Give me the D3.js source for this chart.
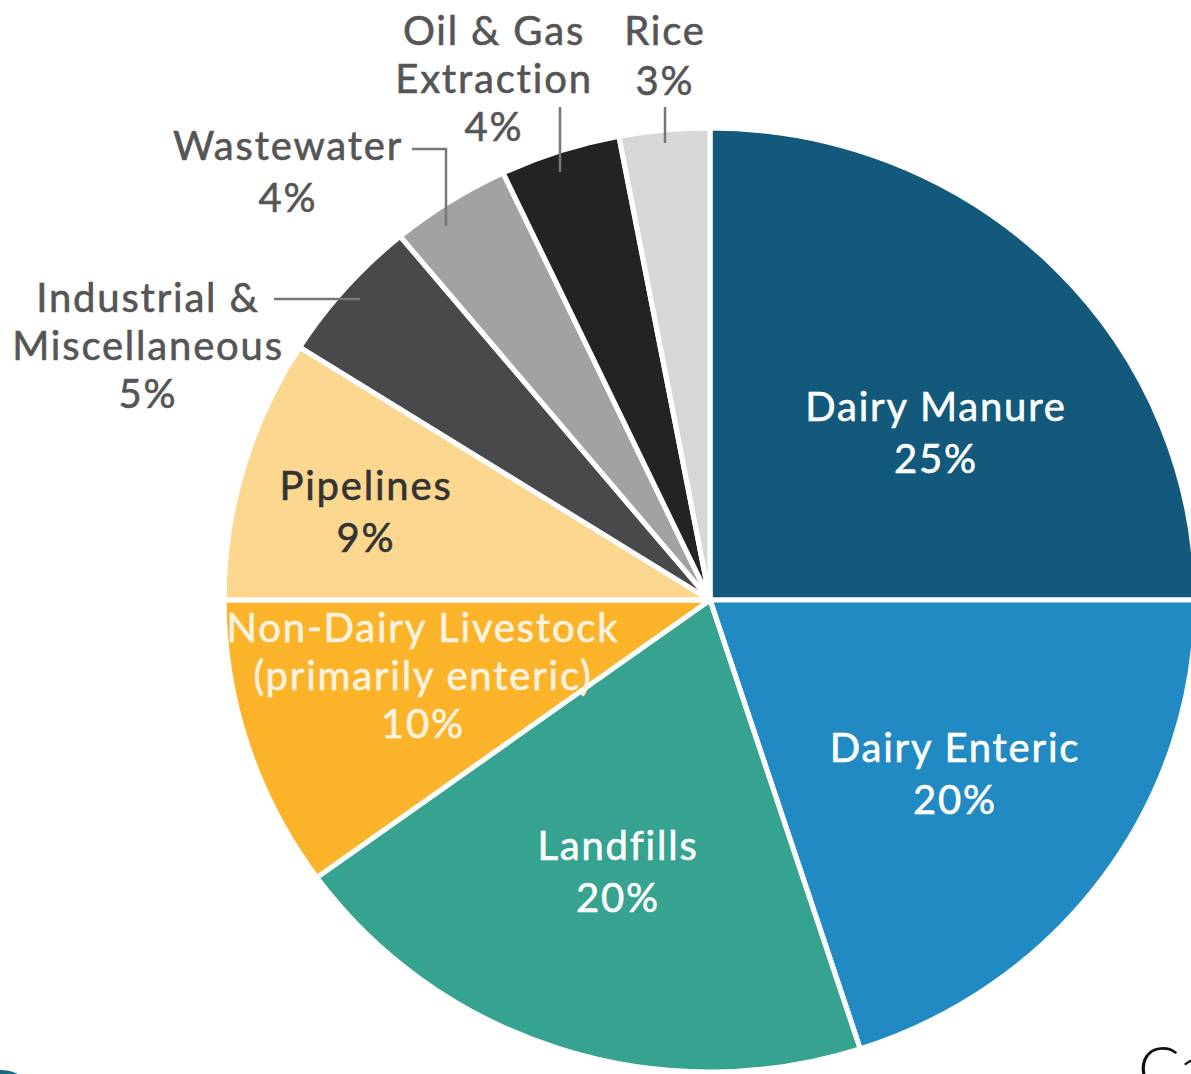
<!DOCTYPE html>
<html>
<head lang="en">
	<meta charset="UTF-8">
	<title>Methane emissions by source</title>
	<script src="https://cdn.jsdelivr.net/npm/d3@7/dist/d3.min.js"></script>
	<style type="text/css">
		html, body { margin: 0; padding: 0; background: #fff; overflow: hidden; }
		svg text { font-family: Lato, "Open Sans", sans-serif; font-size: 40px; letter-spacing: 1.8px; }
	</style>
</head>
<body>
	<svg id="chart" width="1191" height="1074" version="1.1" xmlns="http://www.w3.org/2000/svg"></svg>
	<script type="text/javascript">
		// slices, clockwise from 12 o'clock
		var categories = ['Dairy Manure', 'Dairy Enteric', 'Landfills', 'Non-Dairy Livestock',
			'Pipelines', 'Industrial & Miscellaneous', 'Wastewater', 'Oil & Gas Extraction', 'Rice'];
		var shares = [25, 20, 20, 10, 9, 5, 4, 4, 3];
		var colors = ['#13597c', '#228ac3', '#36a390', '#fbb42a', '#fcd78f', '#49494b', '#a1a2a4', '#232323', '#d7d7d7'];

		// label text lines (percent is appended from shares)
		var labelLines = [
			['Dairy Manure'],
			['Dairy Enteric'],
			['Landfills'],
			['Non-Dairy Livestock', '(primarily enteric)'],
			['Pipelines'],
			['Industrial &', 'Miscellaneous'],
			['Wastewater'],
			['Oil & Gas', 'Extraction'],
			['Rice']
		];

		var cx = 710, cy = 600, rx = 486, ry = 472;

		// where each label block sits (first line centre) and its colour
		var labelLayout = [
			{ x: 936, y: 407, fill: '#fff' },
			{ x: 955, y: 748, fill: '#fff' },
			{ x: 618, y: 846, fill: '#fff' },
			{ x: 423, y: 628, fill: '#fdf3e0', lh: 48 },
			{ x: 366, y: 486, fill: '#333' },
			{ x: 148, y: 298, fill: '#555', lh: 48 },
			{ x: 288, y: 146, fill: '#555' },
			{ x: 494, y: 31, fill: '#555', lh: 48 },
			{ x: 665, y: 31, fill: '#555', lh: 50 }
		];

		// leader lines for the outside labels
		var leaders = [
			{ i: 5, pts: [[274, 299], [360, 299]] },
			{ i: 6, pts: [[412, 149], [446, 149], [446, 226]] },
			{ i: 7, pts: [[560, 107], [560, 172]] },
			{ i: 8, pts: [[665, 107], [665, 143]] }
		];

		var svg = d3.select('#chart');

		var color = d3.scaleOrdinal().domain(categories).range(colors);

		var pie = d3.pie().sort(null).value(function (d) { return d; });
		var arc = d3.arc().innerRadius(0).outerRadius(ry);

		var arcs = pie(shares);

		var pieG = svg.append('g')
			.attr('transform', 'translate(' + cx + ',' + cy + ') scale(' + (rx / ry) + ',1)');

		pieG.selectAll('path').data(arcs).enter().append('path')
			.attr('d', arc)
			.attr('fill', function (d, i) { return color(categories[i]); })
			.attr('stroke', '#fff')
			.attr('stroke-width', 5)
			.attr('stroke-linejoin', 'round');

		// leader lines
		var line = d3.line();
		svg.selectAll('path.leader').data(leaders).enter().append('path')
			.attr('class', 'leader')
			.attr('d', function (d) { return line(d.pts); })
			.attr('fill', 'none')
			.attr('stroke', '#777')
			.attr('stroke-width', 2.5);

		// labels
		var labels = svg.selectAll('text.lbl').data(categories).enter().append('text')
			.attr('class', 'lbl')
			.attr('text-anchor', 'middle')
			.attr('fill', function (d, i) { return labelLayout[i].fill; })
			.attr('stroke', function (d, i) { return labelLayout[i].fill; })
			.attr('stroke-width', 0.6);

		labels.each(function (d, i) {
			var lay = labelLayout[i];
			var lh = lay.lh || 52;
			var lines = labelLines[i].concat([shares[i] + '%']);
			var t = d3.select(this);
			lines.forEach(function (s, j) {
				t.append('tspan')
					.attr('x', lay.x)
					.attr('y', lay.y + j * lh)
					.attr('dy', '0.35em')
					.text(s);
			});
		});

		// bits of neighbouring page content cut by the crop
		svg.append('text')
			.attr('x', 1138)
			.attr('y', 1090)
			.attr('fill', '#111')
			.style('font-size', '62px')
			.style('font-weight', 300)
			.style('letter-spacing', '0px')
			.text('Ca');

		svg.append('ellipse')
			.attr('cx', 0)
			.attr('cy', 1080)
			.attr('rx', 22)
			.attr('ry', 10)
			.attr('fill', '#17697a');
	</script>
</body>
</html>
